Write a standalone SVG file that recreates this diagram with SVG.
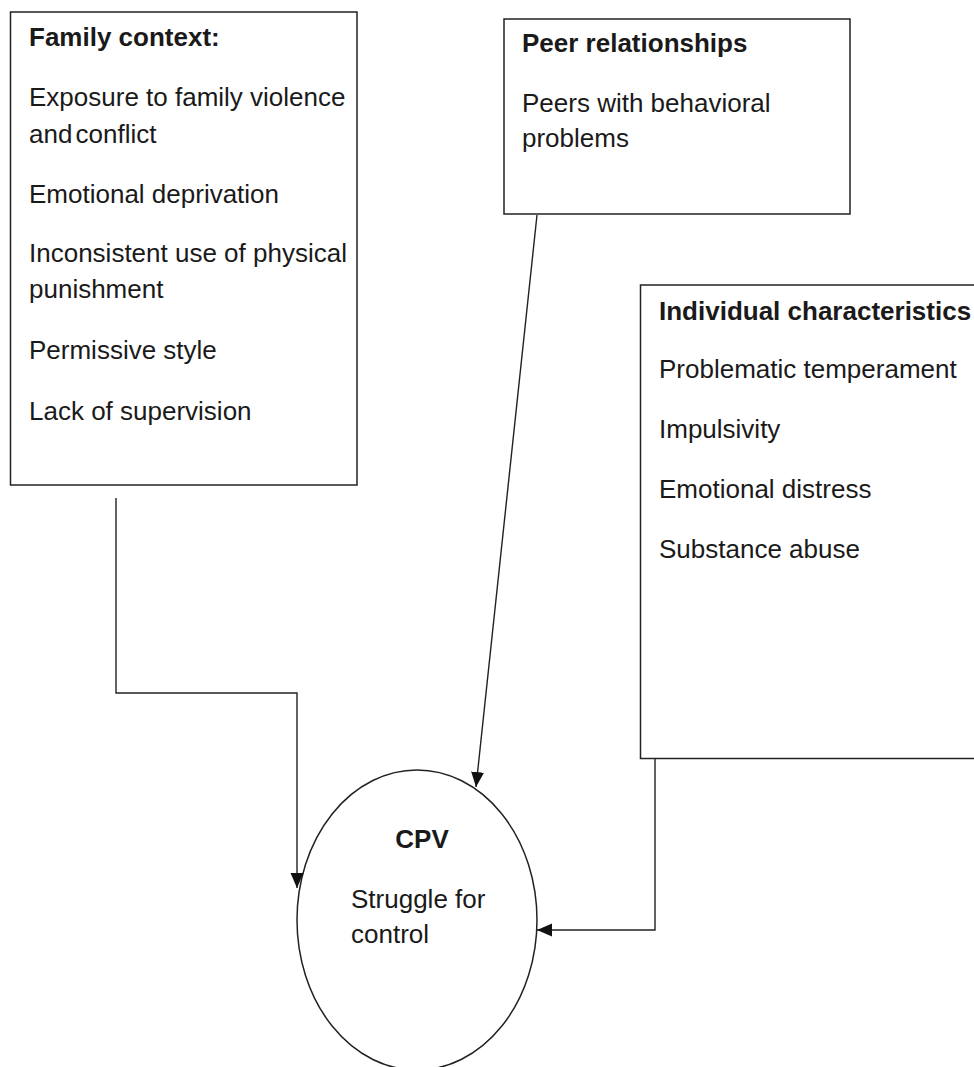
<svg xmlns="http://www.w3.org/2000/svg" width="974" height="1067" viewBox="0 0 974 1067">
<style>
.box{fill:#fff;stroke:#222;stroke-width:1.5}
.t{font-family:"Liberation Sans",Arial,sans-serif;font-size:26px;fill:#1a1a1a}
.b{font-weight:bold}
.conn{fill:none;stroke:#222;stroke-width:1.4}
</style>
<defs>
<marker id="arr" markerUnits="userSpaceOnUse" markerWidth="16" markerHeight="14" refX="15" refY="6.5" orient="auto">
<path d="M0,0 L15,6.5 L0,13 Z" fill="#111"/>
</marker>
</defs>
<rect width="974" height="1067" fill="#fff"/>
<g id="family">
<rect class="box" x="10.5" y="12" width="346.5" height="473"/>
<text class="t b" x="29" y="46">Family context:</text>
<text class="t" x="29" y="106">Exposure to family violence</text>
<text class="t" x="29" y="143" word-spacing="-4">and conflict</text>
<text class="t" x="29" y="203">Emotional deprivation</text>
<text class="t" x="29" y="262">Inconsistent use of physical</text>
<text class="t" x="29" y="298">punishment</text>
<text class="t" x="29" y="359">Permissive style</text>
<text class="t" x="29" y="420">Lack of supervision</text>
</g>
<g id="peer">
<rect class="box" x="504" y="19" width="346" height="195"/>
<text class="t b" x="522" y="52">Peer relationships</text>
<text class="t" x="522" y="112">Peers with behavioral</text>
<text class="t" x="522" y="147">problems</text>
</g>
<g id="individual">
<rect class="box" x="640.5" y="285" width="345" height="473.5"/>
<text class="t b" x="659" y="320">Individual characteristics</text>
<text class="t" x="659" y="378">Problematic temperament</text>
<text class="t" x="659" y="438">Impulsivity</text>
<text class="t" x="659" y="498">Emotional distress</text>
<text class="t" x="659" y="558">Substance abuse</text>
</g>
<g id="cpv">
<ellipse class="box" cx="417" cy="920" rx="120" ry="150"/>
<text class="t b" x="422" y="848" text-anchor="middle">CPV</text>
<text class="t" x="351" y="908">Struggle for</text>
<text class="t" x="351" y="943">control</text>
</g>
<g id="connectors">
<path class="conn" d="M116,498 V693 H297 V888" marker-end="url(#arr)"/>
<path class="conn" d="M537,215 L476,787" marker-end="url(#arr)"/>
<path class="conn" d="M655,759 V930 H537" marker-end="url(#arr)"/>
</g>
</svg>
